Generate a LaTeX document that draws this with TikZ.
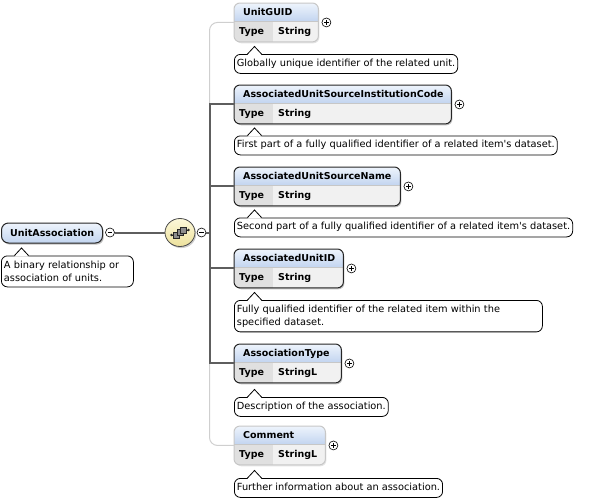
\documentclass[tikz,border=0pt]{standalone}
\usepackage{fontspec}
\setmainfont{DejaVu Sans}
\usetikzlibrary{shadows,calc,shapes.geometric}
\definecolor{hdrtop}{HTML}{EEF4FC}
\definecolor{hdrbot}{HTML}{C3D5F0}
\definecolor{typecell}{HTML}{E0E0E0}
\definecolor{valcell}{HTML}{F1F1F1}
\definecolor{seqtop}{HTML}{FCF8DA}
\definecolor{seqbot}{HTML}{EDE19C}
\definecolor{connc}{HTML}{5E5E5E}
\definecolor{optc}{HTML}{CFCFCF}
\tikzset{
 ttl/.style={font=\fontsize{9.5}{11}\selectfont\bfseries, anchor=base west, inner sep=0},
 box/.style={rounded corners=6, fill=white, inner sep=0, anchor=north west, minimum height=38.5},
 reqb/.style={draw=black!85, line width=1},
 optb/.style={draw=black!22, line width=1},
 desc/.style={draw=black, line width=0.8, fill=white, rounded corners=6, anchor=north west, align=left, inner xsep=2.5, inner ysep=4.5, font=\fontsize{9.8}{13}\selectfont},
 desc1/.style={desc, text height=7.5, text depth=2.5},
 conn/.style={draw=connc, line width=2},
 optconn/.style={draw=optc, line width=1},
 pm/.style={circle, draw=black, line width=0.6, fill=white, minimum size=9, inner sep=0},
}
% #1 name #2 x #3 y #4 width #5 title #6 type #7 border style #8 shadow opacity
\newcommand\xelem[8]{%
 \node[box, minimum width=#4, drop shadow={shadow xshift=1.2pt, shadow yshift=-1.6pt, opacity=#8}] (#1) at (#2,#3) {};
 \begin{scope}
  \clip[rounded corners=6] (#1.north west) rectangle (#1.south east);
  \shade[top color=hdrtop, bottom color=hdrbot] (#1.north west) rectangle ($(#1.north east)+(0,18)$);
  \fill[typecell] ($(#1.north west)+(0,18)$) rectangle ($(#1.south west)+(39,0)$);
  \fill[valcell] ($(#1.north west)+(39,18)$) rectangle (#1.south east);
 \end{scope}
 \draw[black!22, line width=0.6] ($(#1.north west)+(0,18)$) -- ($(#1.north east)+(0,18)$);
 \draw[#7, rounded corners=6] (#1.north west) rectangle (#1.south east);
 \node[ttl] at ($(#1.north west)+(9,12)$) {#5};
 \node[ttl] at ($(#1.north west)+(5,31)$) {Type};
 \node[ttl] at ($(#1.north west)+(44,31)$) {#6};
 \node[pm] (#1p) at ($(#1.east)+(8,0)$) {};
 \draw[line width=0.6] ($(#1p.center)+(-2.4,0)$) -- ($(#1p.center)+(2.4,0)$) ($(#1p.center)+(0,-2.4)$) -- ($(#1p.center)+(0,2.4)$);
}
% pointer of a description box
\newcommand\xptr[1]{%
 \fill[white] ($(#1.north west)+(13.5,1)$) -- ($(#1.north west)+(20.5,-7.5)$) -- ($(#1.north west)+(27.5,1)$) -- cycle;
 \draw[line width=0.8, line join=miter] ($(#1.north west)+(13.5,0)$) -- ($(#1.north west)+(20.5,-7.5)$) -- ($(#1.north west)+(27.5,0)$);
}
\begin{document}
\begin{tikzpicture}[x=1pt,y=-1pt]
\useasboundingbox (0,0) rectangle (597,499);

% root element
\node[rounded corners=7, inner sep=0, anchor=north west, minimum width=101, minimum height=20,
  top color=hdrtop, bottom color=hdrbot, draw=black!85, line width=1,
  drop shadow={shadow xshift=1.2pt, shadow yshift=-1.6pt, opacity=0.5}] (ua) at (1,222.5) {};
\node[ttl] at ($(ua.north west)+(9,13.5)$) {UnitAssociation};
\node[pm] (uam) at (110,232.5) {};
\draw[line width=0.6] ($(uam.center)+(-2.4,0)$) -- ($(uam.center)+(2.4,0)$);
\node[desc, text width=127, minimum height=31] (uad) at (1,255.5) {A binary relationship or\\association of units.};
\xptr{uad}

% sequence compositor
\node[ellipse, minimum width=30, minimum height=28, inner sep=0, draw=black!70, line width=0.8,
  top color=seqtop, bottom color=seqbot,
  drop shadow={shadow xshift=1.2pt, shadow yshift=-1.6pt, opacity=0.4}] (seq) at (180,232.5) {};
\draw[black!85, line width=0.7] ($(seq.center)+(-8.5,2.5)$) -- ($(seq.center)+(-3.5,2.5)$);
\draw[black!85, line width=0.7] ($(seq.center)+(3.5,-2.5)$) -- ($(seq.center)+(8.5,-2.5)$);
\fill[black!85] ($(seq.center)+(-8.5,2.5)$) circle (1.3);
\fill[black!85] ($(seq.center)+(8.5,-2.5)$) circle (1.3);
\foreach \dx/\dy in {-3.5/2.5, 0/0, 3.5/-2.5}
  \draw[black!85, fill=black!45, line width=0.5] ($(seq.center)+(\dx-2.8,\dy-2.8)$) rectangle ($(seq.center)+(\dx+2.8,\dy+2.8)$);
\node[pm] (sqm) at (201.5,232.5) {};
\draw[line width=0.6] ($(sqm.center)+(-2.4,0)$) -- ($(sqm.center)+(2.4,0)$);
\coordinate (tr) at (209.5,232.5);

% child elements
\xelem{e1}{234}{3}{84}{UnitGUID}{String}{optb}{0.22}
\xelem{e2}{234}{85}{217}{AssociatedUnitSourceInstitutionCode}{String}{reqb}{0.5}
\xelem{e3}{234}{167}{166}{AssociatedUnitSourceName}{String}{reqb}{0.5}
\xelem{e4}{234}{249}{109}{AssociatedUnitID}{String}{reqb}{0.5}
\xelem{e5}{234}{344}{107}{AssociationType}{StringL}{reqb}{0.5}
\xelem{e6}{234}{426}{91}{Comment}{StringL}{optb}{0.22}

% descriptions
\node[desc1] (d1) at (234,54) {Globally unique identifier of the related unit.};
\node[desc1] (d2) at (234,135.5) {First part of a fully qualified identifier of a related item\textquotesingle s dataset.};
\node[desc1] (d3) at (234,217.5) {Second part of a fully qualified identifier of a related item\textquotesingle s dataset.};
\node[desc, text width=303, minimum height=31] (d4) at (234,300) {Fully qualified identifier of the related item within the\\specified dataset.};
\node[desc1] (d5) at (234,397) {Description of the association.};
\node[desc1] (d6) at (234,478) {Further information about an association.};
\foreach \d in {d1,d2,d3,d4,d5,d6} { \xptr{\d} }

% connectors
\draw[conn] (uam.east) -- (seq.west);
\draw[conn] (sqm.east) -- (tr);
\draw[optconn, rounded corners=8] (e1.west) -| (tr |- e6.west) -- (e6.west);
\draw[conn, line join=miter] (e2.west) -| (tr) |- (e5.west);
\draw[conn] (tr |- e3.west) -- (e3.west);
\draw[conn] (tr |- e4.west) -- (e4.west);
\end{tikzpicture}
\end{document}
